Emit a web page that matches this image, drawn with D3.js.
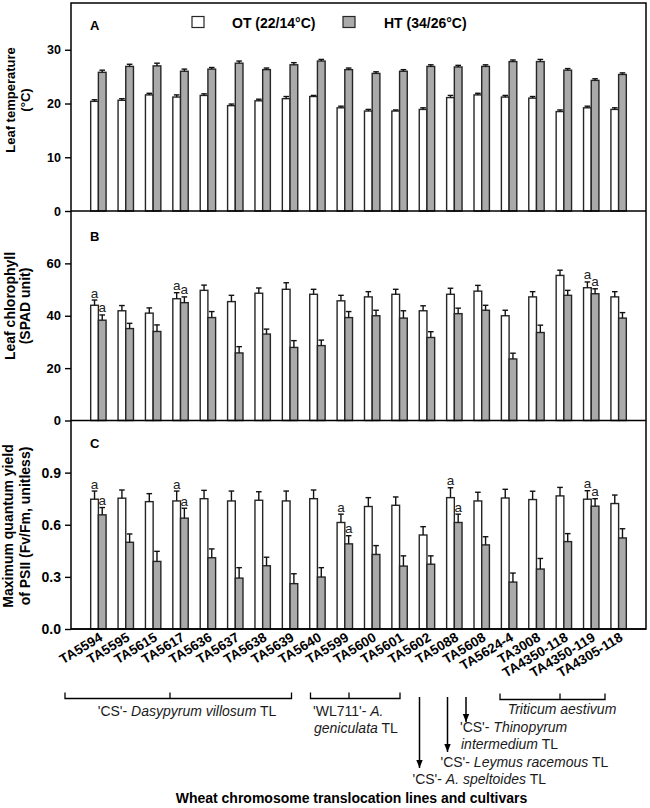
<!DOCTYPE html>
<html><head><meta charset="utf-8">
<script src="https://cdnjs.cloudflare.com/ajax/libs/d3/7.8.5/d3.min.js"></script>
<style>body{margin:0;background:#fff;} svg{display:block;font-family:Arial,"Liberation Sans",sans-serif;}</style>
</head><body>
<script>
const lines = ["TA5594","TA5595","TA5615","TA5617","TA5636","TA5637","TA5638","TA5639","TA5640","TA5599","TA5600","TA5601","TA5602","TA5088","TA5608","TA5624-4","TA3008","TA4350-118","TA4350-119","TA4305-118"];
const seriesNames = ["OT (22/14°C)","HT (34/26°C)"];

const tempOT    = [20.4,20.6,21.6,21.2,21.5,19.6,20.5,20.9,21.3,19.2,18.6,18.6,18.9,21.1,21.6,21.2,21.0,18.5,19.2,18.9];
const tempOTerr = [0.3,0.3,0.3,0.4,0.3,0.3,0.3,0.4,0.2,0.3,0.3,0.2,0.3,0.4,0.3,0.3,0.3,0.3,0.3,0.3];
const tempHT    = [25.8,26.9,27.0,26.0,26.4,27.5,26.3,27.2,27.9,26.3,25.6,26.0,26.9,26.8,26.9,27.8,27.8,26.2,24.3,25.4];
const tempHTerr = [0.4,0.4,0.5,0.4,0.3,0.4,0.3,0.4,0.3,0.3,0.3,0.3,0.3,0.3,0.3,0.3,0.4,0.3,0.3,0.3];

const chlOT    = [44.0,41.9,41.0,46.5,49.7,45.4,48.6,50.1,48.2,45.7,47.2,48.2,41.9,48.2,49.4,40.0,47.2,55.4,50.7,47.2];
const chlOTerr = [2.0,2.0,2.0,2.3,2.0,2.4,2.0,2.5,1.9,2.1,2.0,1.9,1.9,2.3,2.2,2.1,2.0,2.0,2.2,2.0];
const chlHT    = [38.3,35.1,34.0,45.0,39.3,25.8,33.0,27.9,28.6,39.3,40.0,39.1,31.7,40.8,42.1,23.5,33.6,47.8,48.4,39.1];
const chlHTerr = [2.0,2.0,2.5,2.2,2.3,2.4,1.9,2.6,2.1,2.3,2.1,2.8,2.2,2.1,1.9,2.2,2.8,1.9,1.9,2.1];
const chlOTlet = ["a","","","a","","","","","","","","","","","","","","","a",""];
const chlHTlet = ["a","","","a","","","","","","","","","","","","","","","a",""];

const fvOT    = [0.747,0.753,0.733,0.737,0.750,0.737,0.741,0.737,0.750,0.613,0.705,0.712,0.541,0.756,0.737,0.754,0.745,0.766,0.747,0.722];
const fvOTerr = [0.047,0.047,0.046,0.057,0.048,0.057,0.049,0.057,0.050,0.048,0.051,0.048,0.048,0.057,0.050,0.050,0.048,0.049,0.049,0.049];
const fvHT    = [0.657,0.499,0.389,0.638,0.410,0.293,0.364,0.261,0.299,0.490,0.429,0.362,0.373,0.613,0.484,0.270,0.345,0.503,0.707,0.524];
const fvHTerr = [0.042,0.048,0.058,0.057,0.051,0.060,0.049,0.057,0.054,0.047,0.051,0.059,0.048,0.048,0.047,0.052,0.061,0.046,0.043,0.053];
const fvOTlet = ["a","","","a","","","","","","a","","","","a","","","","","a",""];
const fvHTlet = ["a","","","a","","","","","","a","","","","a","","","","","a",""];

const tempTicks = [0,10,20,30];
const chlTicks = [0,20,40,60];
const fvTicks = [0,0.3,0.6,0.9];

const W = 650, H = 808;
const svg = d3.select("body").append("svg").attr("width",W).attr("height",H);
const L = 71, R = 646;
const x = d3.scaleLinear().domain([0, lines.length + 1]).range([L, R]);
const bw = 7.7;
const grayFill = "#aaaaaa", stroke = "#262626";

const panels = [
  {letter:"A", top:3, bottom:211, max:38.7, ot:tempOT, ote:tempOTerr, ht:tempHT, hte:tempHTerr, otl:null, htl:null, ticks:tempTicks, fmt:d3.format("d"), lab:["Leaf temperature","(°C)"], labY:100, fs:12.5, lfs:13, lx:[15,30], letXY:[86,30]},
  {letter:"B", top:211, bottom:420.5, max:80, ot:chlOT, ote:chlOTerr, ht:chlHT, hte:chlHTerr, otl:chlOTlet, htl:chlHTlet, ticks:chlTicks, fmt:d3.format("d"), lab:["Leaf chlorophyll","(SPAD unit)"], labY:306, fs:13, lfs:14, lx:[15,30], letXY:[86,241]},
  {letter:"C", top:420.5, bottom:629, max:1.2, ot:fvOT, ote:fvOTerr, ht:fvHT, hte:fvHTerr, otl:fvOTlet, htl:fvHTlet, ticks:fvTicks, fmt:d3.format(".1f"), lab:["Maximum quantum yield","of PSII (Fv/Fm, unitless)"], labY:526, fs:14, lfs:14, lx:[13,30], letXY:[86,448]}
];

panels.forEach(p => {
  const y = d3.scaleLinear().domain([0,p.max]).range([p.bottom,p.top]);
  const g = svg.append("g");
  const idx = d3.range(lines.length);
  const drawSeries = (vals, errs, lets, offset, fill) => {
    g.selectAll(null).data(idx).enter().append("rect")
      .attr("x", i => x(i+1) + offset).attr("width", bw)
      .attr("y", i => y(vals[i])).attr("height", i => y(0) - y(vals[i]))
      .attr("fill", fill).attr("stroke", stroke).attr("stroke-width", 1.4);
    const eg = g.selectAll(null).data(idx).enter().append("g");
    eg.append("line")
      .attr("x1", i => x(i+1)+offset+bw/2).attr("x2", i => x(i+1)+offset+bw/2)
      .attr("y1", i => y(vals[i])).attr("y2", i => y(vals[i]+errs[i]))
      .attr("stroke","#111").attr("stroke-width",1.4);
    eg.append("line")
      .attr("x1", i => x(i+1)+offset+bw/2-2.8).attr("x2", i => x(i+1)+offset+bw/2+2.8)
      .attr("y1", i => y(vals[i]+errs[i])).attr("y2", i => y(vals[i]+errs[i]))
      .attr("stroke","#111").attr("stroke-width",1.4);
    if (lets) {
      g.selectAll(null).data(idx.filter(i => lets[i])).enter().append("text")
        .attr("x", i => x(i+1)+offset+bw/2).attr("y", i => y(vals[i]+errs[i]) - 2.5)
        .attr("text-anchor","middle").attr("font-size",13.5).attr("fill","#222")
        .text(i => lets[i]);
    }
  };
  drawSeries(p.ot, p.ote, p.otl, -bw, "#ffffff");
  drawSeries(p.ht, p.hte, p.htl, 0, grayFill);

  const ax = d3.axisLeft(y).tickValues(p.ticks).tickFormat(p.fmt).tickSize(6).tickPadding(4);
  const ag = svg.append("g").attr("transform",`translate(${L},0)`).call(ax);
  ag.select(".domain").remove();
  ag.selectAll("line").attr("stroke","#000").attr("stroke-width",1.4);
  ag.selectAll("text").attr("font-size",p.fs).attr("font-weight","bold").attr("fill","#000");

  p.lab.forEach((t,k) => {
    svg.append("text").attr("transform",`translate(${p.lx[k]},${p.labY}) rotate(-90)`)
      .attr("text-anchor","middle").attr("font-size",p.lfs).attr("font-weight","bold").text(t);
  });
  svg.append("text").attr("x",p.letXY[0]+4).attr("y",p.letXY[1]).attr("font-size",13)
    .attr("font-weight","bold").text(p.letter);
  svg.append("line").attr("x1",L).attr("x2",R).attr("y1",p.bottom).attr("y2",p.bottom)
    .attr("stroke","#000").attr("stroke-width",1.5);
});

svg.append("rect").attr("x",L).attr("y",3).attr("width",R-L).attr("height",629-3)
  .attr("fill","none").attr("stroke","#000").attr("stroke-width",1.5);

const legend = [{name:seriesNames[0], fill:"#ffffff", bx:192, tx:232},{name:seriesNames[1], fill:grayFill, bx:343, tx:384}];
legend.forEach(d => {
  svg.append("rect").attr("x",d.bx).attr("y",16.5).attr("width",12).attr("height",11)
    .attr("fill",d.fill).attr("stroke",stroke).attr("stroke-width",1.2);
  svg.append("text").attr("x",d.tx).attr("y",27.5).attr("font-size",14).attr("font-weight","bold").text(d.name);
});

svg.selectAll(null).data(lines).enter().append("text")
  .attr("transform",(d,i) => `translate(${x(i+1)+5},${640}) rotate(-31)`)
  .attr("text-anchor","end").attr("font-size",13.5).attr("font-weight","bold").text(d => d);

const ann = svg.append("g").attr("stroke","#000").attr("stroke-width",1.3).attr("fill","none");
const bracket = (x1,x2,yb,xc) => {
  ann.append("path").attr("d",`M${x1},${yb-6}V${yb}H${x2}V${yb-6}M${xc},${yb}V${yb-6}`);
};
bracket(65,291.5,698.5,170);
bracket(310.5,400,698.5,349);
bracket(500,605,699.5,560);

const defs = svg.append("defs");
defs.append("marker").attr("id","ah").attr("viewBox","0 0 10 10").attr("refX",10).attr("refY",5)
  .attr("markerWidth",8).attr("markerHeight",10).attr("markerUnits","userSpaceOnUse").attr("orient","auto")
  .append("path").attr("d","M0,1L10,5L0,9Z").attr("fill","#000");
const arrows = [[419.5,697,768],[447.5,697,752],[466,697,722]];
arrows.forEach(a => {
  svg.append("line").attr("x1",a[0]).attr("x2",a[0]).attr("y1",a[1]).attr("y2",a[2])
    .attr("stroke","#000").attr("stroke-width",1.5).attr("marker-end","url(#ah)");
});

const addText = (xx, yy, parts, anchor) => {
  const t = svg.append("text").attr("x",xx).attr("y",yy).attr("font-size",14).attr("fill","#1a1a1a")
    .attr("text-anchor",anchor||"start");
  parts.forEach(p => t.append("tspan").attr("font-style",p[1]?"italic":"normal").text(p[0]));
};
addText(187,716,[["'CS'- ",0],["Dasypyrum villosum",1],[" TL",0]],"middle");
addText(313,716,[["'WL711'- ",0],["A.",1]]);
addText(314,733,[["geniculata",1],[" TL",0]]);
addText(562,714,[["Triticum aestivum",1]],"middle");
addText(460,731.5,[["'CS'- ",0],["Thinopyrum",1]]);
addText(461,748.5,[["intermedium",1],[" TL",0]]);
addText(440.5,766.5,[["'CS'- ",0],["Leymus racemous",1],[" TL",0]]);
addText(412.5,784,[["'CS'- ",0],["A. speltoides",1],[" TL",0]]);

svg.append("text").attr("x",351.5).attr("y",803).attr("text-anchor","middle")
  .attr("font-size",14).attr("font-weight","bold").text("Wheat chromosome translocation lines and cultivars");
</script>
</body></html>
